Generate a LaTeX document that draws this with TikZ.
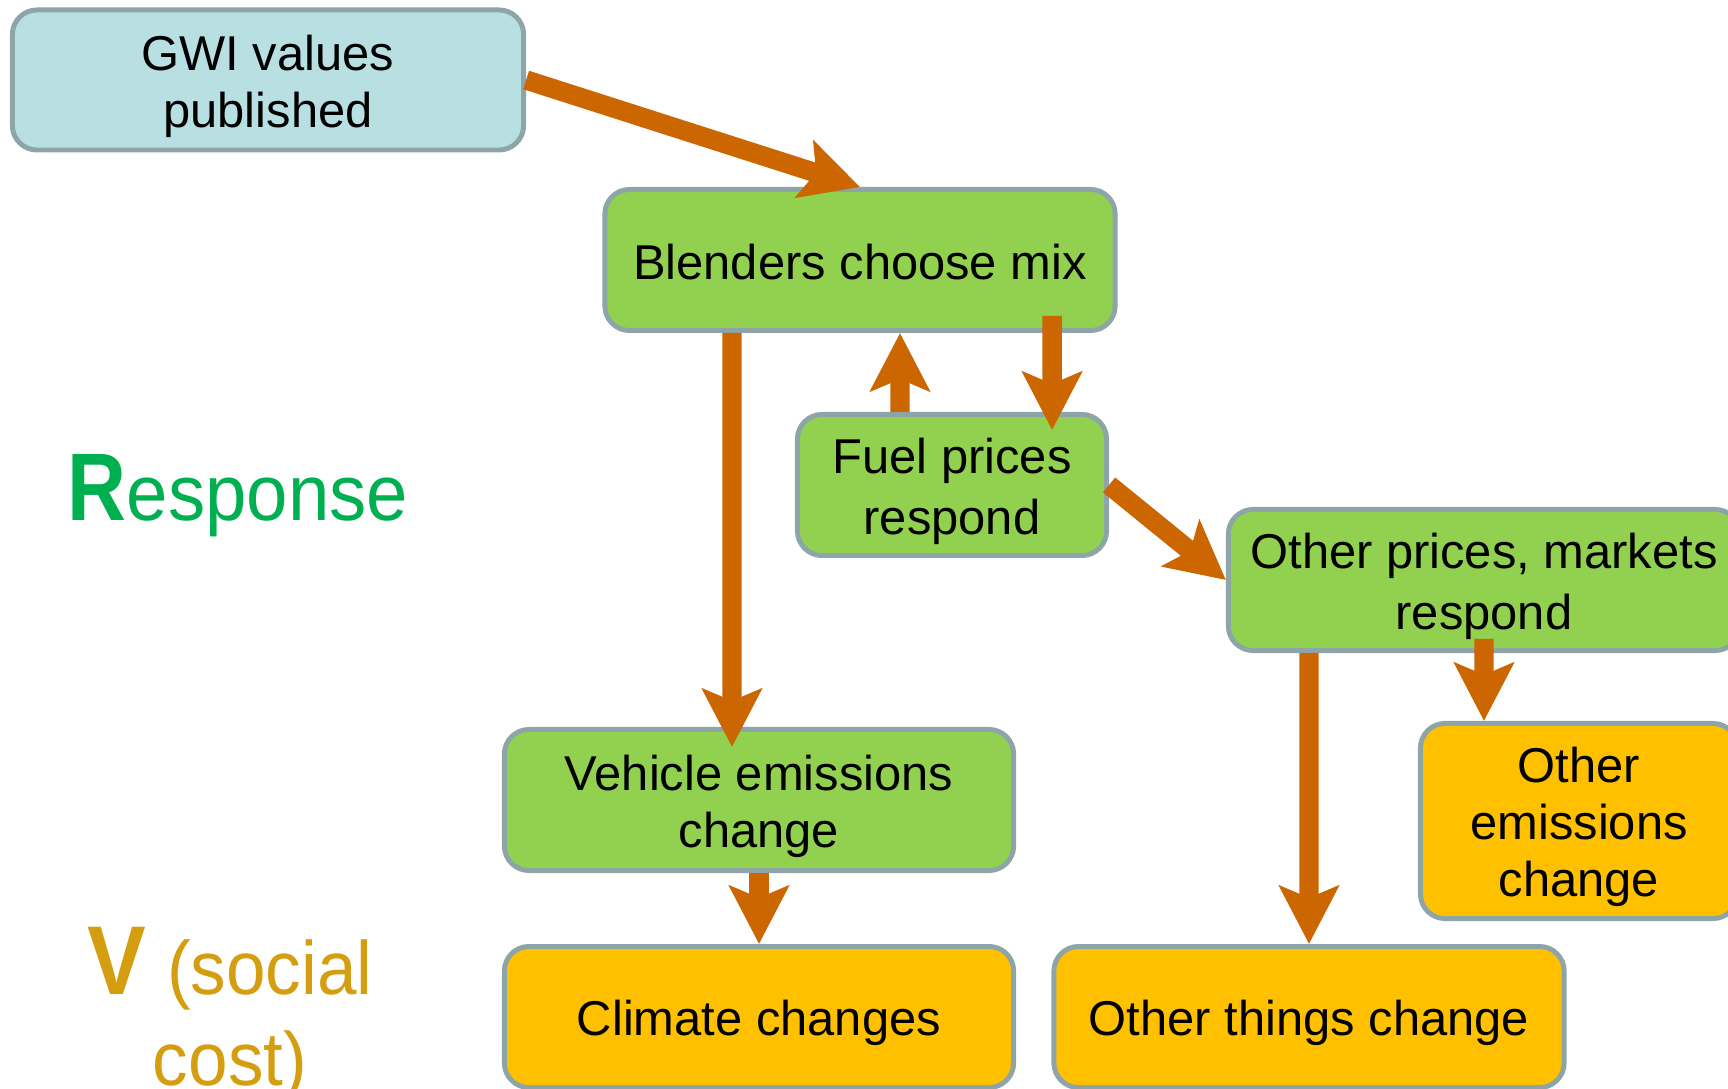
\documentclass[tikz,border=0pt]{standalone}
\usepackage{fontspec}
\setmainfont{Liberation Sans}
\usetikzlibrary{arrows.meta}
\definecolor{arrowc}{HTML}{CC6600}
\definecolor{borderc}{HTML}{8DA4A8}
\definecolor{bluef}{HTML}{B8DFE2}
\definecolor{greenf}{HTML}{92D050}
\definecolor{yellowf}{HTML}{FFC000}
\definecolor{respc}{HTML}{00B050}
\definecolor{vc}{HTML}{D49E10}
\newcommand\lnstrut{\rule[-2.65pt]{0pt}{16.2pt}}
\begin{document}
\begin{tikzpicture}[x=0.01cm,y=-0.01cm,
  box/.style={draw=borderc, line width=1.4pt, rounded corners=7pt, align=center, inner sep=0pt,
    font=\fontsize{13.9}{16.2}\selectfont, minimum height=1.41cm},
  arr/.style={draw=arrowc, line width=5.5pt, -{Stealth[length=16.5pt,width=16.8pt,inset=3.4pt]}}]
\useasboundingbox (0,0) rectangle (1728,1089);
\clip (0,0) rectangle (1728,1089);

\node[box, fill=bluef, minimum width=5.11cm, minimum height=1.40cm] (gwi) at (268,80) {\lnstrut GWI values\\published\lnstrut};
\node[box, fill=greenf, minimum width=5.10cm] (blend) at (860,260) {\lnstrut Blenders choose mix};
\node[box, fill=greenf, minimum width=3.09cm] (fuel) at (952,485) {\lnstrut Fuel prices\\respond\lnstrut};
\node[box, fill=greenf, minimum width=5.11cm] (oprice) at (1484,580) {\lnstrut Other prices, markets\\respond\lnstrut};
\node[box, fill=greenf, minimum width=5.09cm] (veh) at (759,800) {\lnstrut Vehicle emissions\\change\lnstrut};
\node[box, fill=yellowf, minimum width=5.09cm] (clim) at (759,1017) {\lnstrut Climate changes};
\node[box, fill=yellowf, minimum width=5.10cm] (oth) at (1309,1017) {\lnstrut Other things change};
\node[box, fill=yellowf, minimum width=3.17cm, minimum height=1.95cm] (oem) at (1579,821) {\lnstrut Other\\emissions\\change\lnstrut};

\node[anchor=base, text=respc, inner sep=0pt] (resp) at (238,521)
  {{\fontsize{27.3}{30}\selectfont\bfseries\scalebox{0.85}[1]{R}}{\fontsize{22.5}{27}\selectfont\scalebox{0.94}[1]{esponse}}};
\node[anchor=base, text=vc, inner sep=0pt] (vlab) at (230,994)
  {{\fontsize{27.8}{30}\selectfont\bfseries\scalebox{0.9}[1]{V}}\fontsize{21.5}{26}\selectfont\ \scalebox{0.94}[1]{(social}};
\node[anchor=base, text=vc, inner sep=0pt] (vlab2) at (230,1085)
  {\fontsize{21.5}{26}\selectfont\scalebox{0.94}[1]{cost)}};

\draw[arr] (gwi.east) -- (blend.north);
\draw[arr] ([xshift=-1.28cm]blend.south) -- ([xshift=-0.27cm,yshift=-0.2cm]veh.north);
\draw[arr] ([xshift=-0.52cm]fuel.north) -- ([xshift=0.40cm]blend.south);
\draw[arr] ([xshift=1.92cm,yshift=0.17cm]blend.south) -- ([xshift=1.0cm,yshift=-0.18cm]fuel.north);
\draw[arr] (fuel.east) -- (oprice.west);
\draw[arr] ([xshift=-1.75cm]oprice.south) -- (oth.north);
\draw[arr] ([yshift=0.14cm]oprice.south) -- ([xshift=-0.95cm]oem.north);
\draw[arr] (veh.south) -- (clim.north);
\end{tikzpicture}
\end{document}
